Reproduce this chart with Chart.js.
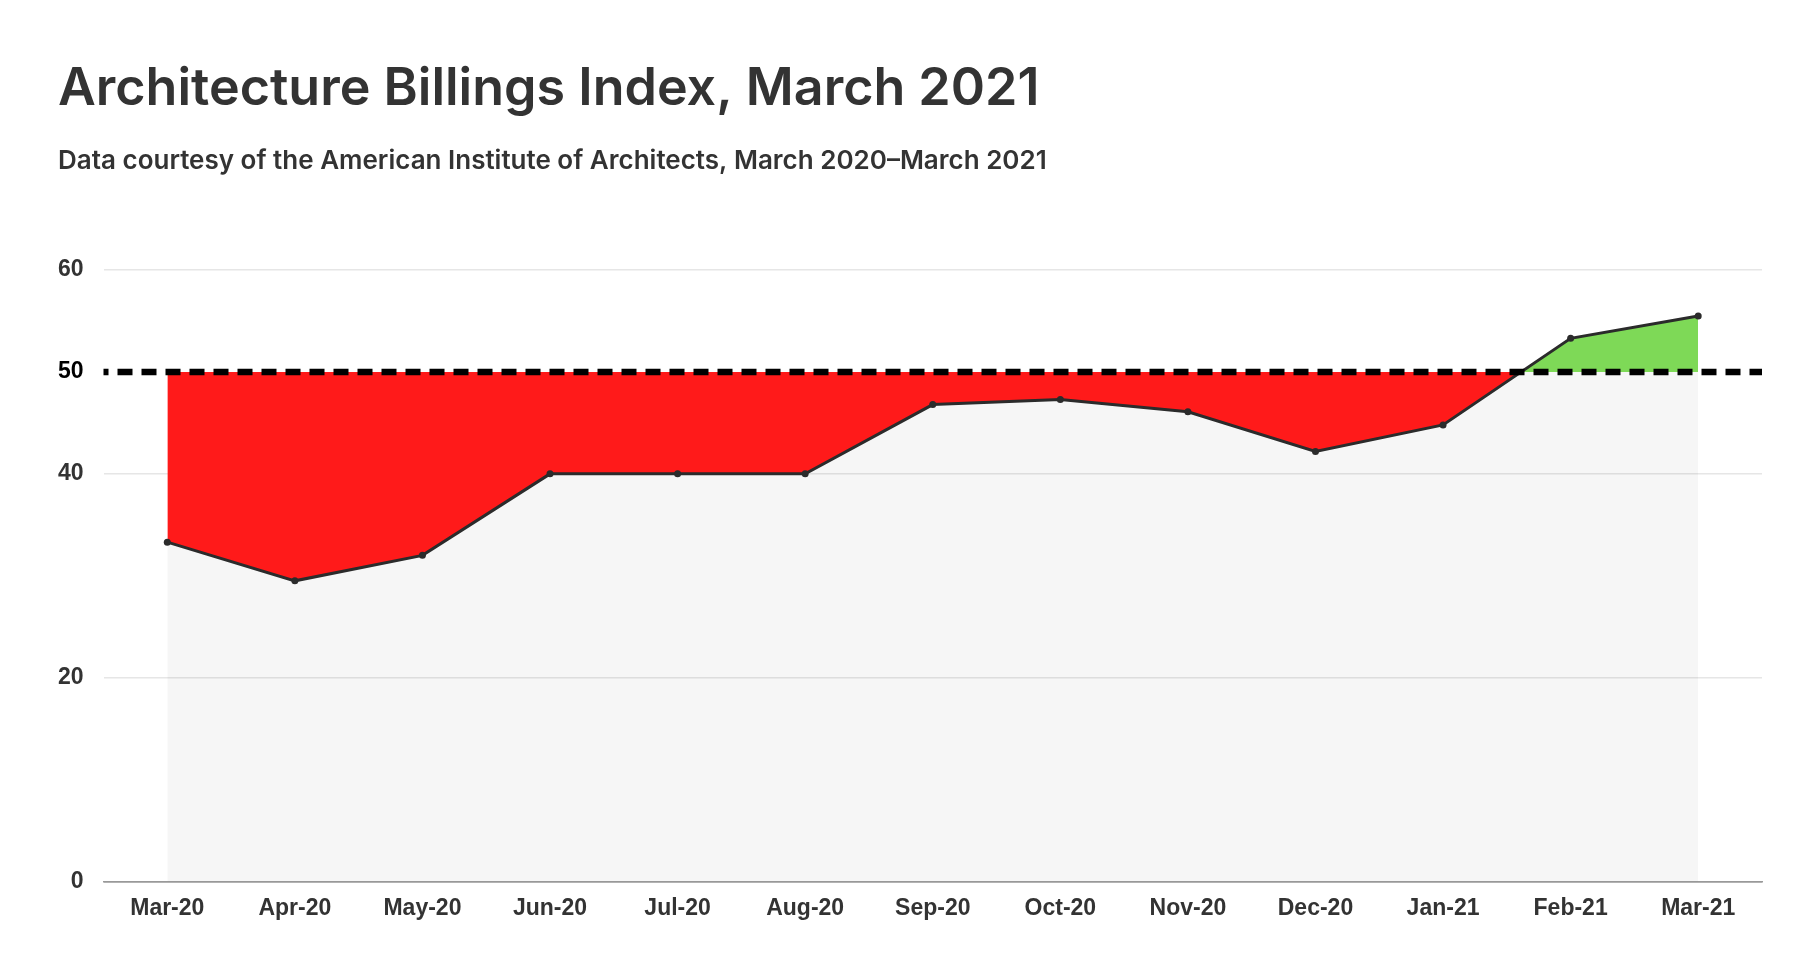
<!DOCTYPE html>
<html>
<head>
<meta charset="utf-8">
<script src="https://cdn.jsdelivr.net/npm/chart.js@4"></script>
<style>
  html, body { margin: 0; padding: 0; background: #ffffff; }
  #wrap { width: 1820px; height: 980px; }
</style>
</head>
<body>
<div id="wrap"><canvas id="c" width="1820" height="980"></canvas></div>
<script>
const months = ['Mar-20','Apr-20','May-20','Jun-20','Jul-20','Aug-20','Sep-20','Oct-20','Nov-20','Dec-20','Jan-21','Feb-21','Mar-21'];
const abiValues = [33.3, 29.5, 32.0, 40.0, 40.0, 40.0, 46.8, 47.3, 46.1, 42.2, 44.8, 53.3, 55.5];
const yTickValues = [0, 20, 40, 50, 60];
const threshold = 50;
const titleText = 'Architecture Billings Index, March 2021';
const subtitleText = 'Data courtesy of the American Institute of Architects, March 2020\u2013March 2021';

const thresholdLine = {
  id: 'thresholdLine',
  afterDatasetsDraw(chart) {
    const { ctx, chartArea } = chart;
    const y = chart.scales.y.getPixelForValue(threshold);
    ctx.save();
    ctx.strokeStyle = '#000000';
    ctx.lineWidth = 6.5;
    ctx.setLineDash([15, 9]);
    ctx.lineDashOffset = 10;
    ctx.beginPath();
    ctx.moveTo(chartArea.left, y);
    ctx.lineTo(chartArea.right, y);
    ctx.stroke();
    ctx.restore();
  }
};

new Chart(document.getElementById('c'), {
  type: 'line',
  data: {
    labels: months,
    datasets: [
      {
        label: 'ABI',
        data: abiValues,
        order: 0,
        borderColor: '#2b2b2b',
        borderWidth: 3,
        pointRadius: 3.5,
        pointBackgroundColor: '#2b2b2b',
        pointBorderWidth: 0,
        tension: 0,
        fill: { target: { value: threshold }, above: '#7ed957', below: '#ff1a1a' }
      },
      {
        label: 'base',
        data: abiValues,
        order: 1,
        borderWidth: 0,
        pointRadius: 0,
        backgroundColor: 'rgba(0,0,0,0.035)',
        fill: 'origin'
      }
    ]
  },
  options: {
    responsive: false,
    devicePixelRatio: 1,
    animation: false,
    layout: { padding: { left: 58, right: 58, bottom: 45, top: 0 } },
    plugins: {
      legend: { display: false },
      tooltip: { enabled: false },
      title: {
        display: true,
        text: titleText,
        align: 'start',
        color: '#333333',
        font: { family: 'Inter', size: 52, weight: '600', lineHeight: 1.2 },
        padding: { top: 58, bottom: 0 }
      },
      subtitle: {
        display: true,
        text: subtitleText,
        align: 'start',
        color: '#333333',
        font: { family: 'Inter', size: 26, weight: '600', lineHeight: 1.2 },
        padding: { top: 25, bottom: 93.5 }
      }
    },
    scales: {
      x: {
        offset: true,
        grid: { display: false, drawTicks: false },
        border: { display: true, color: '#999999', width: 1.5 },
        ticks: {
          padding: 13,
          color: '#333333',
          font: { family: 'Liberation Sans, Arial', size: 23, weight: 'bold' },
          maxRotation: 0
        }
      },
      y: {
        min: 0,
        max: 60,
        afterBuildTicks(scale) {
          scale.ticks = yTickValues.map(v => ({ value: v }));
        },
        afterFit(scale) {
          scale.width = 45.5;
        },
        border: { display: false },
        grid: {
          drawTicks: false,
          lineWidth: 1.5,
          color: (c) => {
            const v = c.tick ? c.tick.value : null;
            if (v === threshold) return 'rgba(0,0,0,0)';
            if (v === 0) return '#999999';
            return '#e6e6e6';
          }
        },
        ticks: {
          padding: 20,
          color: (c) => (c.tick && c.tick.value === threshold ? '#000000' : '#333333'),
          font: { family: 'Liberation Sans, Arial', size: 23, weight: 'bold' }
        }
      }
    }
  },
  plugins: [thresholdLine]
});
</script>
</body>
</html>
